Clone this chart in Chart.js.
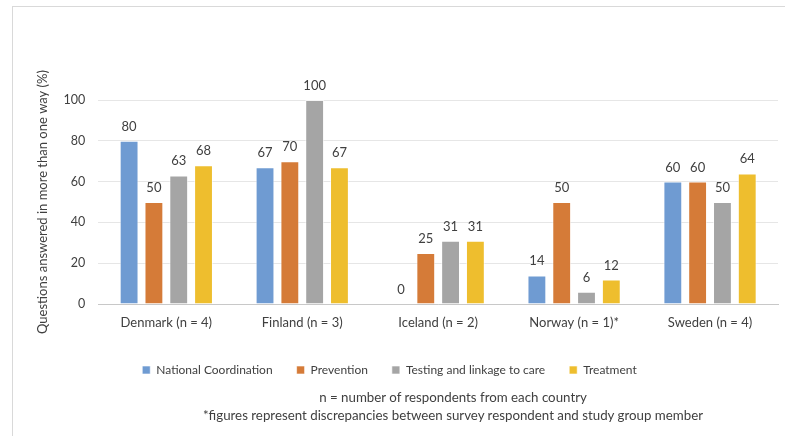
<!DOCTYPE html>
<html>
<head>
<meta charset="utf-8">
<script src="https://cdn.jsdelivr.net/npm/chart.js@4"></script>
<style>
    html, body { margin: 0; padding: 0; background: #fff; }
    #wrap { position: relative; width: 785px; height: 436px; overflow: hidden; }
    #frame {
        position: absolute; left: 12px; top: 6px; right: -2px; bottom: -2px;
        border-left: 1px solid #d9d9d9; border-top: 1px solid #d9d9d9;
        pointer-events: none;
    }
    #notes {
        position: absolute; left: 153px; width: 600px; top: 388px;
        text-align: center; color: #404040;
        font: 13.3px/18px Lato, "Open Sans", sans-serif;
    }
</style>
</head>
<body>
<div id="wrap">
    <canvas id="chart" width="785" height="436"></canvas>
    <div id="frame"></div>
    <div id="notes"></div>
</div>
<script>
/** DATA */

const countries = ['Denmark (n = 4)', 'Finland (n = 3)', 'Iceland (n = 2)', 'Norway (n = 1)*', 'Sweden (n = 4)'];
const nationalCoordination = [80, 67, 0, 14, 60];
const prevention = [50, 70, 25, 50, 60];
const testingLinkage = [63, 100, 31, 6, 50];
const treatment = [68, 67, 31, 12, 64];
const yTicks = [0, 20, 40, 60, 80, 100];
const footnotes = [
    'n = number of respondents from each country',
    '*figures represent discrepancies between survey respondent and study group member'
];

/** NOTES */

const notes = document.getElementById('notes');
footnotes.forEach(line => {
    const div = document.createElement('div');
    div.textContent = line;
    notes.appendChild(div);
});

/** CHART */

const textColor = '#404040';
const fontFamily = 'Lato, "Open Sans", sans-serif';

const series = (label, data, colour) => {
    return {
        label: label,
        data: data,
        backgroundColor: colour,
        borderColor: 'rgba(255,255,255,0.6)',
        borderWidth: 1,
        categoryPercentage: 0.73,
        barPercentage: 0.76
    };
};

// value above every bar, like Excel data labels
const barLabels = {
    id: 'barLabels',
    afterDatasetsDraw(chart) {
        const ctx = chart.ctx;
        ctx.save();
        ctx.font = '13px ' + fontFamily;
        ctx.fillStyle = textColor;
        ctx.textAlign = 'center';
        ctx.textBaseline = 'alphabetic';
        chart.data.datasets.forEach((ds, i) => {
            chart.getDatasetMeta(i).data.forEach((bar, j) => {
                ctx.fillText(String(ds.data[j]), bar.x, bar.y - 10);
            });
        });
        ctx.restore();
    }
};

// the legend in the reference sits a little left of the canvas centre
const shiftLegend = {
    id: 'shiftLegend',
    afterLayout(chart) {
        chart.legend.left -= 17;
        chart.legend.right -= 17;
    }
};

new Chart(document.getElementById('chart'), {
    type: 'bar',
    data: {
        labels: countries,
        datasets: [
            series('National Coordination', nationalCoordination, '#6f9bd2'),
            series('Prevention', prevention, '#d57b38'),
            series('Testing and linkage to care', testingLinkage, '#a5a5a5'),
            series('Treatment', treatment, '#eebe2e')
        ]
    },
    options: {
        responsive: false,
        animation: false,
        layout: { padding: { top: 100, left: 35, right: 7, bottom: 50 } },
        plugins: {
            legend: {
                position: 'bottom',
                labels: {
                    boxWidth: 8, boxHeight: 8, padding: 24,
                    color: textColor,
                    font: { family: fontFamily, size: 12 }
                }
            },
            tooltip: { enabled: false }
        },
        scales: {
            x: {
                grid: { display: false, drawTicks: false },
                border: { color: '#c8c8c8' },
                ticks: { color: textColor, font: { family: fontFamily, size: 13 }, padding: 11 },
                afterFit: (axis) => { axis.height = 36; }
            },
            y: {
                min: 0, max: 100,
                afterBuildTicks: (axis) => { axis.ticks = yTicks.map(v => ({ value: v })); },
                grid: { color: '#e6e6e6', drawTicks: false },
                border: { display: false },
                ticks: { color: textColor, font: { family: fontFamily, size: 12.5 }, padding: 13 },
                title: {
                    display: true,
                    text: 'Questions answered in more than one way (%)',
                    color: textColor,
                    font: { family: fontFamily, size: 13 },
                    padding: { top: 0, bottom: 0 }
                }
            }
        }
    },
    plugins: [barLabels, shiftLegend]
});
</script>
</body>
</html>
